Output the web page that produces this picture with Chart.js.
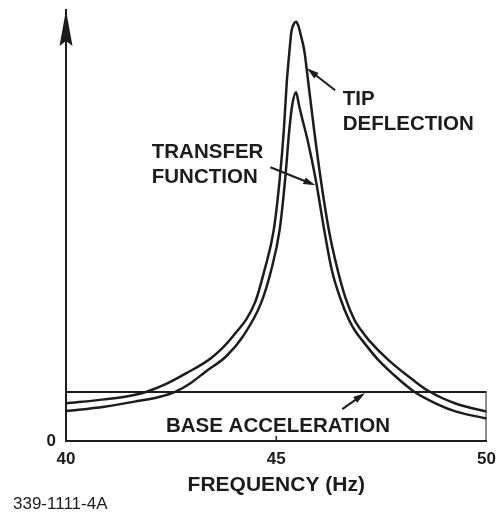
<!DOCTYPE html>
<html>
<head>
<meta charset="utf-8">
<script src="https://cdn.jsdelivr.net/npm/chart.js@4.4.1/dist/chart.umd.min.js"></script>
<style>
  html, body { margin:0; padding:0; background:#fff; }
  #wrap { width:504px; height:515px; }
</style>
</head>
<body>
<div id="wrap"><canvas id="chart" width="504" height="515"></canvas></div>
<script>
// values (y in units of the base acceleration level)
const xTicks = [40, 45, 50];

const tipFreq = [40.00, 40.91, 41.50, 41.90, 42.37, 42.83, 43.46, 43.97, 44.49, 44.72, 44.94, 45.08, 45.18, 45.25, 45.32, 45.36, 45.42, 45.47,
                 45.52, 45.58, 45.67, 45.76, 45.90, 46.06, 46.25, 46.46, 46.65, 46.86, 47.02, 47.20, 47.67, 48.26, 48.62, 49.28, 50.00];
const tipVals = [0.77, 0.85, 0.92, 1.00, 1.16, 1.37, 1.70, 2.14, 2.82, 3.49, 4.31, 5.33, 6.35, 7.33, 8.02, 8.36, 8.52, 8.56,
                 8.49, 8.30, 7.95, 7.33, 6.35, 5.33, 4.31, 3.49, 2.91, 2.47, 2.26, 2.06, 1.65, 1.24, 1.02, 0.76, 0.60];

const tfFreq = [40.00, 40.91, 41.73, 42.21, 42.61, 42.96, 43.31, 43.81, 44.21, 44.64, 44.88, 45.08, 45.21, 45.31, 45.38, 45.47,
                45.54, 45.62, 45.74, 45.94, 46.14, 46.32, 46.52, 46.73, 46.88, 47.04, 47.43, 47.94, 48.29, 48.81, 49.28, 50.00];
const tfVals = [0.61, 0.70, 0.82, 0.90, 1.01, 1.18, 1.41, 1.73, 2.14, 2.82, 3.49, 4.31, 5.33, 6.35, 6.86, 7.12,
                6.86, 6.57, 6.16, 5.33, 4.31, 3.49, 2.92, 2.47, 2.24, 2.06, 1.65, 1.24, 1.00, 0.76, 0.60, 0.46];

const baseFreq = [40, 50, 50];
const baseVals = [1, 1, 0];

const FONT = '"Liberation Sans", Arial, Helvetica, sans-serif';
const INK = '#1c1c1c';

// callout texts, placed in data coordinates
const notes = [
  { lines: ["TIP", "DEFLECTION"], x: 46.58, y: 6.86, align: "left" },
  { lines: ["TRANSFER", "FUNCTION"], x: 42.04, y: 5.78, align: "left" },
  { lines: ["BASE ACCELERATION"], x: 45.04, y: 0.18, align: "center" }
];
const leaders = [
  { from: [46.40, 7.16], to: [45.73, 7.61] },
  { from: [44.86, 5.59], to: [45.93, 5.22] },
  { from: [46.57, 0.65], to: [47.11, 0.98] }
];

function pts(xs, ys){
  return xs.map((x, i) => ({ x, y: ys[i] }));
}

function arrow(ctx, x1, y1, x2, y2){
  const ang = Math.atan2(y2 - y1, x2 - x1);
  const len = 12, half = 3.5;
  ctx.beginPath();
  ctx.moveTo(x1, y1);
  ctx.lineTo(x2 - Math.cos(ang) * len * 0.8, y2 - Math.sin(ang) * len * 0.8);
  ctx.stroke();
  ctx.beginPath();
  ctx.moveTo(x2, y2);
  ctx.lineTo(x2 - Math.cos(ang) * len - Math.sin(ang) * half, y2 - Math.sin(ang) * len + Math.cos(ang) * half);
  ctx.lineTo(x2 - Math.cos(ang) * len + Math.sin(ang) * half, y2 - Math.sin(ang) * len - Math.cos(ang) * half);
  ctx.closePath();
  ctx.fill();
}

const extras = {
  id: "extras",
  afterDraw(chart){
    const { ctx, chartArea: a, scales: { x, y } } = chart;
    ctx.save();
    ctx.fillStyle = INK;
    ctx.strokeStyle = INK;

    // arrow head on the y axis
    ctx.beginPath();
    ctx.moveTo(a.left, a.top);
    ctx.lineTo(a.left - 6.5, a.top + 36);
    ctx.lineTo(a.left, a.top + 31);
    ctx.lineTo(a.left + 6.5, a.top + 36);
    ctx.closePath();
    ctx.fill();

    // small mark at 45 Hz
    const p45 = x.getPixelForValue(45);
    ctx.lineWidth = 1.5;
    ctx.beginPath();
    ctx.moveTo(p45, a.bottom);
    ctx.lineTo(p45, a.bottom - 5);
    ctx.stroke();

    // callouts
    ctx.font = "bold 20.5px " + FONT;
    ctx.textBaseline = "alphabetic";
    notes.forEach(n => {
      ctx.textAlign = n.align;
      n.lines.forEach((t, i) => {
        ctx.fillText(t, x.getPixelForValue(n.x), y.getPixelForValue(n.y) + i * 25);
      });
    });
    ctx.lineWidth = 2;
    leaders.forEach(l => {
      arrow(ctx, x.getPixelForValue(l.from[0]), y.getPixelForValue(l.from[1]),
                 x.getPixelForValue(l.to[0]), y.getPixelForValue(l.to[1]));
    });

    // figure number
    ctx.font = "17px " + FONT;
    ctx.textAlign = "left";
    ctx.fillText("339-1111-4A", 13, 509);
    ctx.restore();
  }
};

new Chart(document.getElementById("chart"), {
  type: "line",
  data: {
    datasets: [
      { label: "Tip deflection", data: pts(tipFreq, tipVals), borderColor: INK, borderWidth: 2.5,
        pointRadius: 0, cubicInterpolationMode: "monotone", fill: false },
      { label: "Transfer function", data: pts(tfFreq, tfVals), borderColor: INK, borderWidth: 2.5,
        pointRadius: 0, cubicInterpolationMode: "monotone", fill: false },
      { label: "Base acceleration", data: pts(baseFreq, baseVals), borderColor: INK, borderWidth: 2,
        pointRadius: 0, tension: 0, fill: false }
    ]
  },
  options: {
    responsive: false,
    animation: false,
    layout: { padding: { top: 10, right: 13, left: 0, bottom: 0 } },
    plugins: { legend: { display: false }, tooltip: { enabled: false } },
    scales: {
      x: {
        type: "linear", min: 40, max: 50,
        afterBuildTicks: s => { s.ticks = xTicks.map(v => ({ value: v })); },
        afterFit: s => { s.height = 74; },
        grid: { display: false, drawTicks: false },
        border: { display: true, color: INK, width: 2 },
        ticks: { color: INK, padding: 8, font: { family: FONT, size: 17, weight: "bold" } },
        title: { display: true, text: "FREQUENCY (Hz)", color: INK,
                 font: { family: FONT, size: 21, weight: "bold" }, padding: { top: 0, bottom: 17 } }
      },
      y: {
        min: 0, max: 8.8,
        afterBuildTicks: s => { s.ticks = [{ value: 0 }]; },
        afterFit: s => { s.width = 66; s.paddingTop = 0; s.paddingBottom = 0; },
        grid: { display: false, drawTicks: false },
        border: { display: true, color: INK, width: 2 },
        ticks: { color: INK, padding: 10, font: { family: FONT, size: 17, weight: "bold" } }
      }
    }
  },
  plugins: [extras]
});
</script>
</body>
</html>
